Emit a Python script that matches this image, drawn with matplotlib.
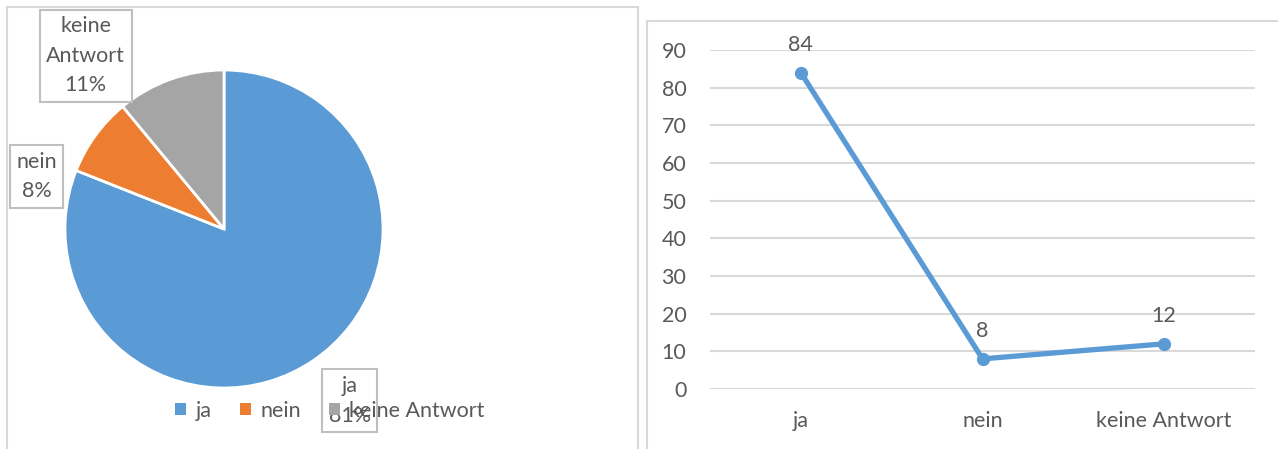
import matplotlib
matplotlib.use("Agg")
import matplotlib.pyplot as plt
from matplotlib.patches import Rectangle, Patch

# answers and counts (line chart), shares in percent (pie chart)
categories = ["ja", "nein", "keine Antwort"]
counts = [84, 8, 12]
shares = [81, 8, 11]
colors = ["#5B9BD5", "#ED7D31", "#A5A5A5"]
yticks = [0, 10, 20, 30, 40, 50, 60, 70, 80, 90]

TEXT = "#595959"
GRID = "#D9D9D9"
W, H = 1278, 449
FS = 15.5

plt.rcParams["font.family"] = ["Lato", "DejaVu Sans"]

fig = plt.figure(figsize=(W / 100, H / 100), dpi=100)


def px(x0, y0, x1, y1):
    # pixel box (top-left origin) -> figure fraction rect
    return [x0 / W, 1 - y1 / H, (x1 - x0) / W, (y1 - y0) / H]


# panel frames
fig.patches.append(Rectangle((7 / W, -0.01), 631 / W, 1 - 7 / H + 0.01,
                             transform=fig.transFigure, fill=False,
                             edgecolor=GRID, linewidth=1.5))
fig.patches.append(Rectangle((647 / W, -0.01), 1, 1 - 21 / H + 0.01,
                             transform=fig.transFigure, fill=False,
                             edgecolor=GRID, linewidth=1.5))

# ---- pie ----
ax1 = fig.add_axes(px(65, 70, 383, 388))
wedges, _ = ax1.pie(shares, colors=colors, startangle=90, counterclock=False,
                    radius=1, wedgeprops=dict(edgecolor="white", linewidth=2))
ax1.set_xlim(-1, 1)
ax1.set_ylim(-1, 1)
ax1.set_aspect("equal")
ax1.axis("off")

label_pos = [(0.79, -1.08), (-1.18, 0.33), (-0.87, 1.09)]
label_txt = ["ja", "nein", "keine\nAntwort"]
for (lx, ly), name, s in zip(label_pos, label_txt, shares):
    ax1.text(lx, ly, f"{name}\n{s}%", ha="center", va="center", fontsize=FS,
             color=TEXT, linespacing=1.6, clip_on=False, zorder=5,
             bbox=dict(boxstyle="square,pad=0.3", facecolor="white",
                       edgecolor="#BFBFBF", linewidth=1.5))

handles = [Patch(facecolor=c, edgecolor="none") for c in colors]
leg = fig.legend(handles, categories, loc="center",
                 bbox_to_anchor=(330 / W, 1 - 411 / H), ncol=3, frameon=False,
                 fontsize=FS, handlelength=0.5, handleheight=0.5,
                 handletextpad=0.45, columnspacing=1.3, labelcolor=TEXT)
leg.set_zorder(10)

# ---- line ----
ax2 = fig.add_axes(px(710, 50, 1255, 389))
x = list(range(len(categories)))
ax2.plot(x, counts, color=colors[0], linewidth=3.8, marker="o",
         markersize=8.5, solid_capstyle="round", zorder=3)
for xi, v in zip(x, counts):
    ax2.annotate(str(v), (xi, v), xytext=(0, 13), textcoords="offset points",
                 ha="center", va="bottom", fontsize=FS, color=TEXT)
ax2.set_xlim(-0.5, 2.5)
ax2.set_ylim(0, 90)
ax2.set_yticks(yticks)
ax2.set_xticks(x)
ax2.set_xticklabels(categories)
ax2.grid(axis="y", color=GRID, linewidth=1.5)
ax2.set_axisbelow(True)
for sp in ax2.spines.values():
    sp.set_visible(False)
ax2.tick_params(length=0, labelsize=FS, labelcolor=TEXT)
ax2.tick_params(axis="y", pad=17)
ax2.tick_params(axis="x", pad=16)

fig.savefig("out.png", dpi=100)
